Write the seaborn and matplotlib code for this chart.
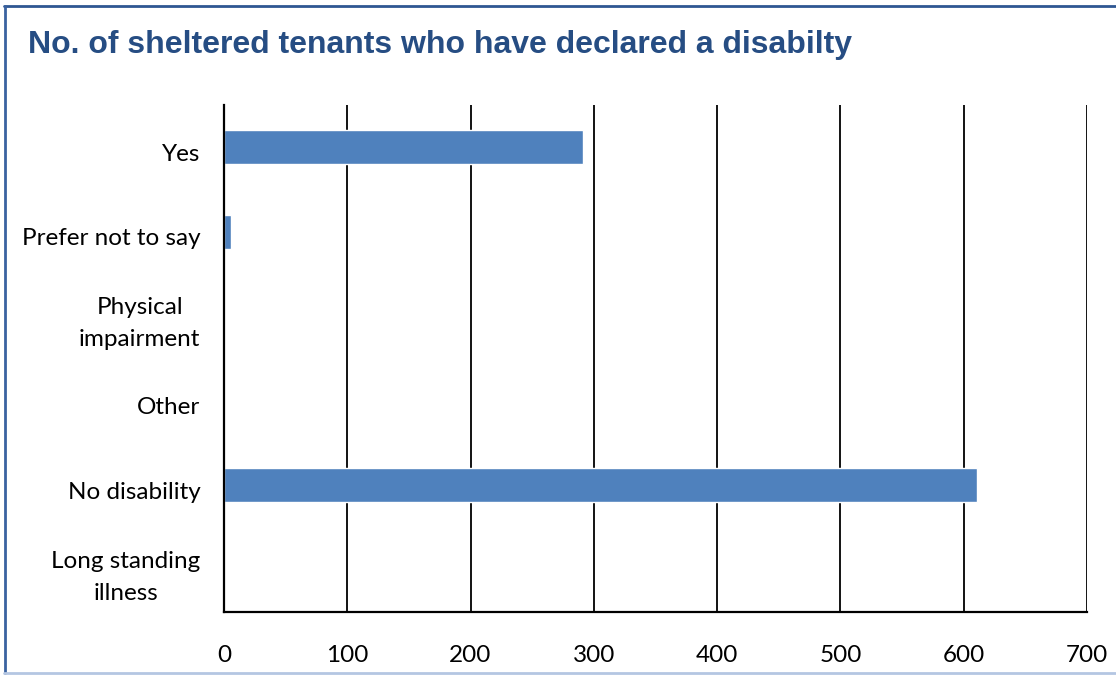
import matplotlib
matplotlib.use("Agg")
import matplotlib.pyplot as plt
from matplotlib.lines import Line2D
from matplotlib.transforms import ScaledTranslation
import seaborn as sns
import pandas as pd

categories = ["Yes", "Prefer not to say", "Physical\nimpairment", "Other",
              "No disability", "Long standing\nillness"]
tenants = [291, 6, 0, 0, 611, 0]
x_ticks = [0, 100, 200, 300, 400, 500, 600, 700]

df = pd.DataFrame({"category": categories, "tenants": tenants})

sns.set_theme(style="white")
plt.rcParams["font.family"] = ["Lato", "DejaVu Sans"]

fig = plt.figure(figsize=(11.16, 6.75), dpi=100)
ax = fig.add_axes([0.2007, 0.0933, 0.7733, 0.7511])

sns.barplot(data=df, x="tenants", y="category", order=categories,
            color="#4F81BD", saturation=1, width=0.4, ax=ax, orient="h")

ax.set_xlim(0, 700)
ax.set_xticks(x_ticks)
ax.set_xticklabels([str(t) for t in x_ticks])
ax.set_xlabel("")
ax.set_ylabel("")
ax.xaxis.grid(True, color="black", linewidth=1.3)
ax.yaxis.grid(False)
ax.set_axisbelow(True)
for side in ["top", "right"]:
    ax.spines[side].set_visible(False)
ax.spines["left"].set_color("black")
ax.spines["left"].set_linewidth(1.6)
ax.spines["bottom"].set_color("black")
ax.spines["bottom"].set_linewidth(1.6)
ax.tick_params(axis="both", length=0, labelsize=17.5, colors="black")
ax.tick_params(axis="x", pad=23.5)
ax.tick_params(axis="y", pad=17)

# single-line category labels sit slightly below the bar centres
label_shift = ScaledTranslation(0, -5 / 100, fig.dpi_scale_trans)
for lbl in ax.get_yticklabels():
    lbl.set_multialignment("center")
    lbl.set_linespacing(1.65)
    if "\n" not in lbl.get_text():
        lbl.set_transform(lbl.get_transform() + label_shift)

fig.text(0.025, 0.933, "No. of sheltered tenants who have declared a disabilty",
         fontsize=23, fontweight="bold", color="#264D83",
         family=["Liberation Sans", "DejaVu Sans"], va="center", ha="left")

# chart frame
fig.add_artist(Line2D([0.004, 1.0], [0.9915, 0.9915], color="#2E5692", linewidth=2,
                      transform=fig.transFigure))
fig.add_artist(Line2D([0.0045, 0.0045], [0.003, 0.9915], color="#3A62A0", linewidth=2,
                      transform=fig.transFigure))
fig.add_artist(Line2D([0.004, 1.0], [0.003, 0.003], color="#B4C6E2", linewidth=2,
                      transform=fig.transFigure))

fig.savefig("out.png", dpi=100)
